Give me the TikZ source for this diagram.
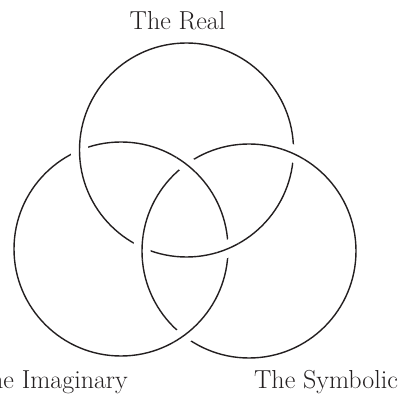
\documentclass[tikz,border=0pt]{standalone}
\usetikzlibrary{intersections}
\definecolor{ink}{HTML}{231F20}
\begin{document}
\begin{tikzpicture}[x=1pt,y=-1pt,
  ring/.style={line width=1.4pt, draw=ink},
  gapcut/.style={line width=17pt, draw=white},
  lbl/.style={font=\fontsize{26}{30}\selectfont, text=ink, inner sep=0pt}]
\useasboundingbox (0,0) rectangle (408,395);
\coordinate (R) at (186.5,150);
\coordinate (I) at (121,249);
\coordinate (S) at (249,251);
\draw[ring, name path=cR] (R) circle[radius=107pt];
\draw[ring, name path=cI] (I) circle[radius=107pt];
\draw[ring, name path=cS] (S) circle[radius=107pt];
% Real over Imaginary
\path[name intersections={of=cR and cI, name=ri}];
\foreach \p in {ri-1,ri-2}{
  \begin{scope}
    \clip (\p) circle[radius=12pt];
    \draw[gapcut] (R) circle[radius=107pt];
    \draw[ring] (R) circle[radius=107pt];
  \end{scope}}
% Symbolic over Real
\path[name intersections={of=cS and cR, name=sr}];
\foreach \p in {sr-1,sr-2}{
  \begin{scope}
    \clip (\p) circle[radius=12pt];
    \draw[gapcut] (S) circle[radius=107pt];
    \draw[ring] (S) circle[radius=107pt];
  \end{scope}}
% Imaginary over Symbolic
\path[name intersections={of=cI and cS, name=is}];
\foreach \p in {is-1,is-2}{
  \begin{scope}
    \clip (\p) circle[radius=12pt];
    \draw[gapcut] (I) circle[radius=107pt];
    \draw[ring] (I) circle[radius=107pt];
  \end{scope}}
\node[lbl, anchor=base] (real) at (177.5,30) {The Real};
\node[lbl, anchor=base east] (imag) at (128,389) {The Imaginary};
\node[lbl, anchor=base] (symb) at (326,389) {The Symbolic};
\end{tikzpicture}
\end{document}
